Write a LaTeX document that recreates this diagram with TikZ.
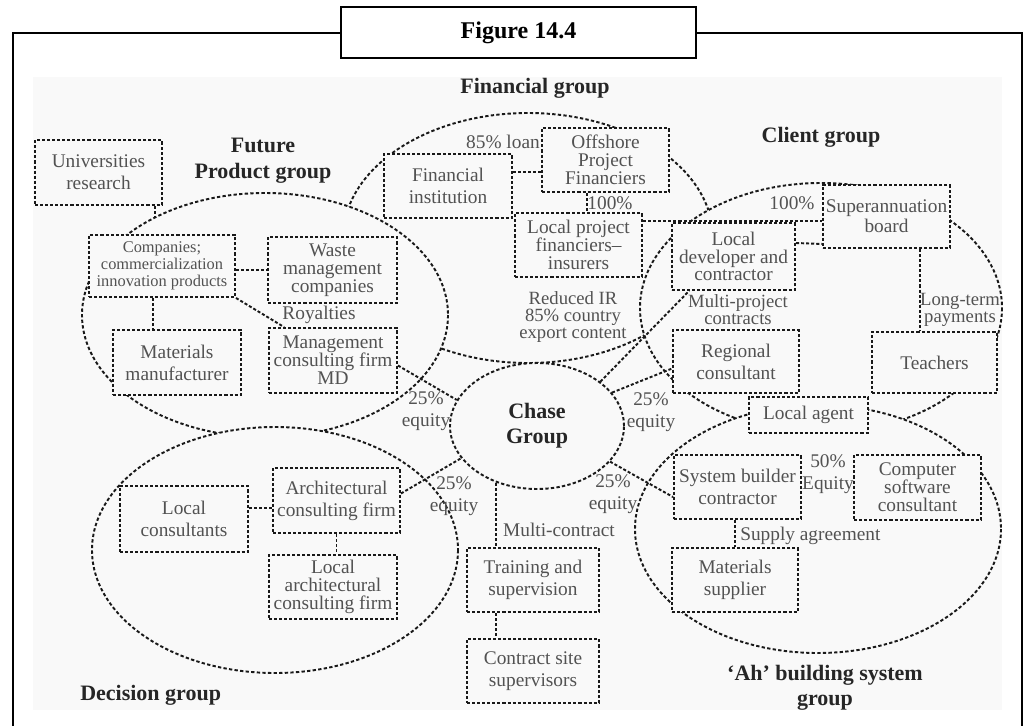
\documentclass[tikz,border=0pt]{standalone}
\usepackage{fontspec}
\setmainfont{Liberation Serif}
\usetikzlibrary{shapes.geometric,calc}
\pgfdeclarelayer{base}
\pgfdeclarelayer{back}
\pgfdeclarelayer{conn}
\pgfsetlayers{base,back,conn,main}
\definecolor{bgc}{gray}{0.975}
\definecolor{txt}{gray}{0.32}
\definecolor{hdc}{gray}{0.15}
\definecolor{lnc}{gray}{0.1}
\begin{document}
\begin{tikzpicture}[x=0.75pt,y=-0.75pt,
  dsh/.style={line width=1.45pt, dash pattern=on 2.3pt off 1.5pt, draw=lnc},
  grp/.style={dsh, fill=bgc, dash pattern=on 2.5pt off 1.7pt},
  bx/.style={dsh, rectangle, fill=bgc, align=center, inner sep=0pt, text=txt, font=\fontsize{14.5}{16.5}\selectfont},
  bxt/.style={bx, font=\fontsize{14.5}{13.4}\selectfont},
  lbl/.style={text=txt, align=center, inner sep=0pt, font=\fontsize{14.5}{16.5}\selectfont},
  lblt/.style={lbl, font=\fontsize{14}{12.8}\selectfont},
  hd/.style={text=hdc, align=center, inner sep=0pt, font=\fontsize{16.5}{19.5}\selectfont\bfseries},
]
\useasboundingbox (0,0) rectangle (1027,725);
\begin{pgfonlayer}{base}
\fill[white] (0,0) rectangle (1027,725);
\fill[bgc] (33,77) rectangle (1002,710);
\end{pgfonlayer}
% frame and title
\draw[line width=1.9pt] (13,727) -- (13,33) -- (1022,33) -- (1022,727);
\node[draw, line width=1.9pt, fill=white, minimum width=266.25pt, minimum height=38.25pt,
      inner sep=0pt, font=\fontsize{18}{20}\selectfont\bfseries] (title) at (518.5,32.5) {Figure 14.4};

% group ellipses
\begin{pgfonlayer}{back}
\draw[grp] (528,238) ellipse [x radius=185, y radius=125];
\draw[grp] (265,315) ellipse [x radius=183, y radius=122];
\draw[grp] (275,550) ellipse [x radius=183, y radius=123];
\draw[grp] (821,308) ellipse [x radius=181, y radius=125];
\draw[grp] (818,529) ellipse [x radius=183, y radius=124];
\end{pgfonlayer}

% Chase group
\node[grp, ellipse, minimum width=130.5pt, minimum height=94.5pt, inner sep=0pt,
      text=hdc, align=center, font=\fontsize{16.5}{18.75}\selectfont\bfseries] (chase) at (537,426) {Chase\\Group};

% boxes
\node[bx, minimum width=95.25pt, minimum height=48.75pt] (univ) at (98.5,172.5) {Universities\\research};
\node[bx, minimum width=96pt, minimum height=48pt] (fin) at (448,186) {Financial\\institution};
\node[bxt, minimum width=95.25pt, minimum height=48pt] (off) at (605.5,160) {Offshore\\Project\\Financiers};
\node[bxt, minimum width=95.25pt, minimum height=48pt] (lpf) at (578.5,245) {Local project\\financiers\textendash\\insurers};
\node[bx, minimum width=109.5pt, minimum height=46.5pt, font=\fontsize{12.3}{12.8}\selectfont] (comp) at (162,266) {Companies;\\commercialization\\innovation products};
\node[bxt, minimum width=96.75pt, minimum height=49.5pt] (waste) at (332.5,270) {Waste\\management\\companies};
\node[bx, minimum width=96pt, minimum height=48.75pt] (matm) at (177,362.5) {Materials\\manufacturer};
\node[bxt, minimum width=96pt, minimum height=48.75pt] (mgmt) at (333,360.5) {Management\\consulting firm\\MD};
\node[bxt, minimum width=92.25pt, minimum height=50.25pt] (dev) at (733.5,256.5) {Local\\developer and\\contractor};
\node[bx, minimum width=95.25pt, minimum height=47.25pt, font=\fontsize{14.5}{15}\selectfont] (super) at (886.5,216.5) {Superannuation\\board};
\node[bx, minimum width=94.5pt, minimum height=47.25pt] (reg) at (736,361.5) {Regional\\consultant};
\node[bx, minimum width=93.75pt, minimum height=45.75pt] (teach) at (934.5,362.5) {Teachers};
\node[bx, minimum width=89.25pt, minimum height=27pt] (agent) at (808.5,415) {Local agent};
\node[bx, minimum width=95.25pt, minimum height=48pt] (sysb) at (737.5,487) {System builder\\contractor};
\node[bxt, minimum width=95.25pt, minimum height=48.75pt] (csw) at (917.5,487.5) {Computer\\software\\consultant};
\node[bx, minimum width=94.5pt, minimum height=48pt] (msup) at (735,580) {Materials\\supplier};
\node[bx, minimum width=96pt, minimum height=49.5pt] (lcons) at (184,519) {Local\\consultants};
\node[bx, minimum width=95.25pt, minimum height=48.75pt] (arch) at (336.5,500.5) {Architectural\\consulting firm};
\node[bxt, minimum width=96pt, minimum height=48pt] (larch) at (333,587) {Local\\architectural\\consulting firm};
\node[bx, minimum width=99pt, minimum height=48pt] (train) at (533,580) {Training and\\supervision};
\node[bx, minimum width=99pt, minimum height=48pt] (csite) at (533,671) {Contract site\\supervisors};

\coordinate (univtick) at ($(univ.south)+(56.5,11)$);

% connectors
\begin{pgfonlayer}{conn}
\draw[dsh] ($(univ.south)+(56.5,0)$) -- (univtick);
\draw[dsh] (comp.east |- waste.west) -- (waste.west);
\draw[dsh] ($(comp.south)+(-9,0)$) -- ($(matm.north)+(-24,0)$);
\draw[dsh] (comp.south east) -- ($(mgmt.north west)+(16,0)$);
\draw[dsh] ($(fin.east)+(0,-14)$) -- ($(off.west)+(0,12)$);
\draw[dsh] ($(off.south)+(-18.5,0)$) -- ($(lpf.north)+(8.5,0)$);
\draw[dsh] ($(lpf.north east)+(0,9)$) -- ($(super.north west)+(0,37)$);
\draw[dsh] ($(dev.east)+(0,-13.5)$) -- ($(super.south west)+(0,-5)$);
\draw[dsh] ($(super.south)+(33.5,0)$) -- ($(teach.north)+(-14.5,0)$);
\draw[dsh] ($(mgmt.east)+(0,5)$) -- (chase.162);
\draw[dsh] (chase.24) -- ($(reg.west)+(0,7)$);
\draw[dsh] (chase.35) -- ($(dev.south west)+(18,0)$);
\draw[dsh] ($(arch.east)+(0,-7)$) -- (chase.203);
\draw[dsh] (chase.334) -- ($(sysb.west)+(0,10)$);
\draw[dsh] (chase.234.5) -- (chase.234.5 |- train.north);
\draw[dsh] ($(lcons.east)+(0,-11)$) -- ($(arch.west)+(0,7.5)$);
\draw[dsh] (arch.south) -- (arch.south |- larch.north);
\draw[dsh] ($(train.south west)+(30,0)$) -- ($(csite.north west)+(30,0)$);
\draw[dsh] (sysb.south -| msup.north) -- (msup.north);
\end{pgfonlayer}

% labels
\node[lbl] (l85) at (503,142) {85\% loan};
\node[lbl] (l100a) at (610,203) {100\%};
\node[lbl] (l100b) at (792,203) {100\%};
\node[lbl] (lroy) at (319,315) {Royalties};
\node[lblt] (lred) at (573,317) {Reduced IR\\85\% country\\export content};
\node[lblt] (lmp) at (738,310) {Multi-project\\contracts};
\node[lblt] (llt) at (960,310) {Long-term\\payments};
\node[lbl] (leq1) at (426,411) {25\%\\equity};
\node[lbl] (leq2) at (651,412) {25\%\\equity};
\node[lbl] (leq3) at (454,496) {25\%\\equity};
\node[lbl] (leq4) at (613,494) {25\%\\equity};
\node[lbl] (l50) at (828,474) {50\%\\Equity};
\node[lbl, anchor=west] (lsup) at (740,536) {Supply agreement};
\node[lbl] (lmc) at (559,530) {Multi-contract};

% headings
\node[hd] (hfin) at (535,88) {Financial group};
\node[hd] (hfut) at (263,161) {Future\\Product group};
\node[hd] (hcli) at (821,137) {Client group};
\node[hd, anchor=west] (hdec) at (80,695) {Decision group};
\node[hd, font=\fontsize{16.5}{18.75}\selectfont\bfseries] (hah) at (825,688) {‘Ah’ building system\\group};
\end{tikzpicture}
\end{document}
